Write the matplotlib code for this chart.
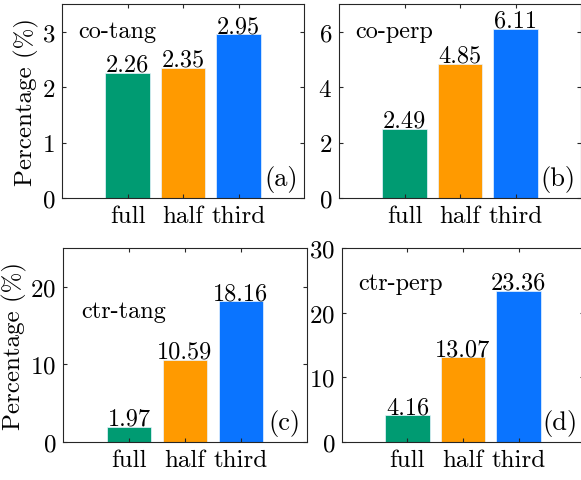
import numpy as np
import matplotlib
matplotlib.use("Agg")
import matplotlib.pyplot as plt

plt.rcParams["font.family"] = ["cmr10", "DejaVu Serif"]
plt.rcParams["axes.formatter.use_mathtext"] = True
plt.rcParams["mathtext.fontset"] = "cm"

categories = ["full", "half", "third"]
bar_colors = ["#009b72", "#ff9a00", "#0a74ff"]

co_tang = [2.26, 2.35, 2.95]
co_perp = [2.49, 4.85, 6.11]
ctr_tang = [1.97, 10.59, 18.16]
ctr_perp = [4.16, 13.07, 23.36]

panels = [
    # values, name, name position, tag, ylim, yticks, axes rect (figure fraction)
    (co_tang, "co-tang", (0.066, 0.86), "(a)", 3.5, [0, 1, 2, 3],
     [0.1067, 0.5863, 0.4166, 0.4033]),
    (co_perp, "co-perp", (0.066, 0.86), "(b)", 7, [0, 2, 4, 6],
     [0.5835, 0.5863, 0.4166, 0.4033]),
    (ctr_tang, "ctr-tang", (0.074, 0.675), "(c)", 25, [0, 10, 20],
     [0.1084, 0.0790, 0.4200, 0.4033]),
    (ctr_perp, "ctr-perp", (0.067, 0.82), "(d)", 30, [0, 10, 20, 30],
     [0.5886, 0.0790, 0.4166, 0.4033]),
]

fig = plt.figure(figsize=(5.81, 4.81), dpi=100)

x = np.arange(1, len(categories) + 1)

for i, (vals, name, name_xy, tag, ytop, yticks, rect) in enumerate(panels):
    ax = fig.add_axes(rect)
    ax.bar(x, vals, width=0.8, color=bar_colors, edgecolor="#e8f4ff", linewidth=0.5)
    for xi, v in zip(x, vals):
        ax.annotate(f"{v:.2f}", (xi, v), xytext=(0, 1.5), textcoords="offset points",
                    ha="center", va="baseline", fontsize=17.5)

    ax.set_xlim(-0.18, 4.18)
    ax.set_ylim(0, ytop)
    ax.set_xticks(x)
    ax.set_xticklabels(categories)
    ax.set_yticks(yticks)
    ax.tick_params(direction="in", length=3, width=0.8, top=True, right=True,
                   labelsize=18, pad=5, color="#262626")
    for sp in ax.spines.values():
        sp.set_linewidth(0.8)
        sp.set_color("#262626")

    ax.text(name_xy[0], name_xy[1], name, transform=ax.transAxes, fontsize=17.5,
            ha="left", va="center")
    ax.text(0.975, 0.1, tag, transform=ax.transAxes, fontsize=19,
            ha="right", va="center")

    if i % 2 == 0:
        ax.set_ylabel("Percentage (%)", fontsize=18, labelpad=2)

fig.savefig("out.png", dpi=100)
